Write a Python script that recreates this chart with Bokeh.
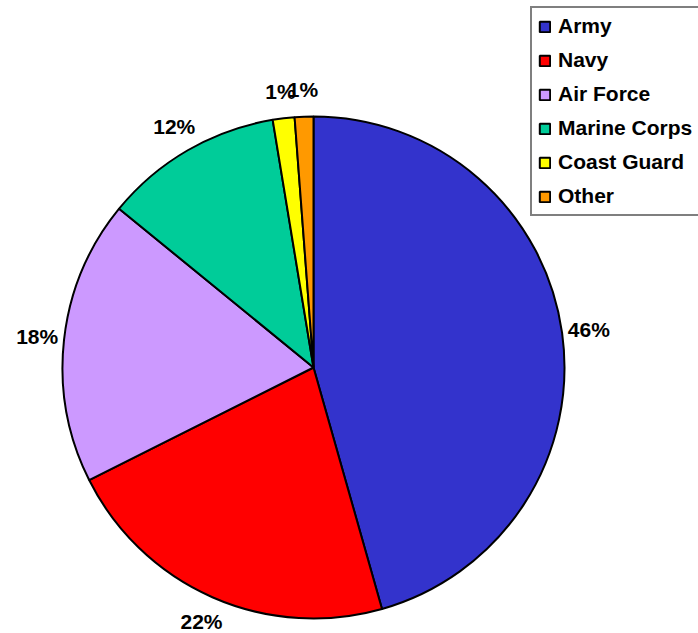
import math
from bokeh.plotting import figure
from bokeh.models import ColumnDataSource, Range1d, Legend, LegendItem
from bokeh.core.properties import value
from bokeh.embed import file_html
from bokeh.resources import INLINE

categories = ["Army", "Navy", "Air Force", "Marine Corps", "Coast Guard", "Other"]
shares = [45.6, 22.0, 18.3, 11.5, 1.4, 1.2]
colors = ["#3333CC", "#FF0000", "#CC99FF", "#00CC99", "#FFFF00", "#FF9900"]

W, H = 698, 633
cx, cy, R = 313, 266, 251
label_r = 278

total = sum(shares)
starts, ends, lx, ly, labels = [], [], [], [], []
cum = 0.0
for s in shares:
    a0 = math.pi / 2 - 2 * math.pi * cum / total
    cum += s
    a1 = math.pi / 2 - 2 * math.pi * cum / total
    starts.append(a0)
    ends.append(a1)
    mid = (a0 + a1) / 2
    lx.append(cx + label_r * math.cos(mid))
    ly.append(cy + label_r * math.sin(mid))
    labels.append(f"{round(s / total * 100):.0f}%")

src = ColumnDataSource(dict(cat=categories, start=starts, end=ends, color=colors))
lsrc = ColumnDataSource(dict(x=lx, y=ly, t=labels))

p = figure(width=W, height=H, output_backend="svg", toolbar_location=None,
           x_range=Range1d(0, W), y_range=Range1d(0, H), min_border=0)
p.axis.visible = False
p.grid.visible = False
p.outline_line_color = None

r = p.wedge(x=cx, y=cy, radius=R, start_angle="start", end_angle="end",
            direction="clock", fill_color="color", line_color="black",
            line_width=2, source=src)

p.text(x="x", y="y", text="t", source=lsrc, text_align="center",
       text_baseline="middle", text_font=value("Liberation Sans"),
       text_font_style="bold", text_font_size="21px", text_color="black")

items = [LegendItem(label=c, renderers=[r], index=i) for i, c in enumerate(categories)]
legend = Legend(items=items, location=(530, 417), border_line_color="black",
                border_line_width=2, padding=6, margin=0, spacing=10,
                glyph_width=13, glyph_height=13, label_height=24,
                label_standoff=7, label_text_font="Liberation Sans",
                label_text_font_style="bold", label_text_font_size="21px",
                label_text_color="black", label_text_baseline="middle",
                background_fill_color="white", background_fill_alpha=1)
p.add_layout(legend, "center")

open("out.html", "w").write(file_html(p, INLINE))
